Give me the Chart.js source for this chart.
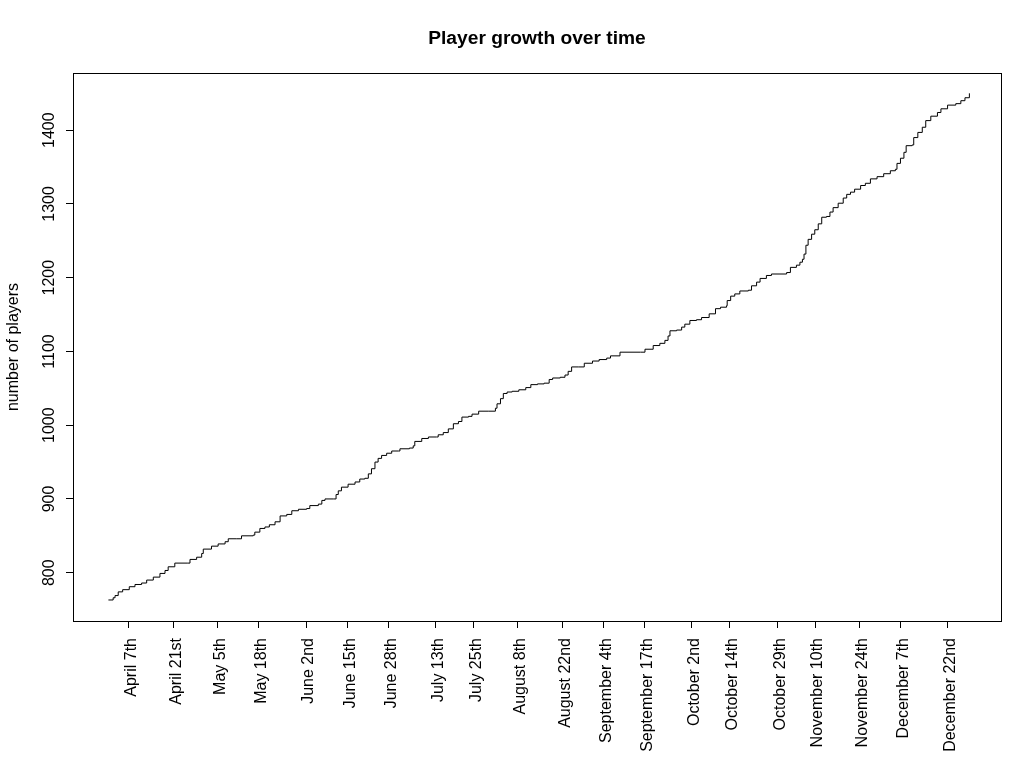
<!DOCTYPE html>
<html>
<head>
<meta charset="utf-8">
<title>Player growth over time</title>
<script src="https://cdn.jsdelivr.net/npm/chart.js@4.4.0/dist/chart.umd.min.js"></script>
<style>
  html, body { margin: 0; padding: 0; background: #fff; }
  #growthChart { display: block; }
</style>
</head>
<body>
<canvas id="growthChart" width="1024" height="768"></canvas>
<script>
// === DATA (day of year -> number of players) ===
const days = [
  90.5, 92.0, 92.6, 93.6, 95.0, 97.1, 98.9, 101.0, 102.6, 104.7,
  106.8, 108.4, 109.4, 111.5, 115.4, 116.3, 118.4, 120.0, 120.5, 123.1,
  125.2, 127.4, 128.4, 131.1, 132.6, 136.3, 136.8, 138.4, 140.0, 141.4,
  143.2, 144.8, 146.9, 148.5, 150.6, 153.2, 154.2, 156.9, 158.0, 159.0,
  161.6, 162.5, 163.2, 164.2, 166.3, 168.5, 170.0, 171.6, 172.7, 173.7,
  174.8, 175.8, 176.9, 178.5, 180.1, 182.2, 182.7, 185.7, 186.9, 187.4,
  189.6, 191.7, 194.3, 194.8, 196.4, 198.0, 199.6, 201.2, 202.3, 204.4,
  205.5, 207.6, 210.8, 212.9, 213.4, 214.5, 215.4, 216.6, 218.2, 220.3,
  222.5, 224.1, 226.2, 228.3, 229.9, 231.0, 233.4, 234.9, 235.9, 237.0,
  239.1, 241.0, 243.6, 245.7, 248.1, 249.3, 252.3, 258.8, 260.2, 262.8,
  264.9, 266.5, 267.5, 268.1, 270.2, 271.8, 272.8, 274.4, 276.5, 278.1,
  280.5, 282.5, 284.1, 286.0, 286.2, 287.3, 288.6, 290.2, 292.9, 293.9,
  295.5, 296.6, 298.6, 300.2, 302.9, 305.0, 306.2, 308.1, 309.2, 310.0,
  310.5, 311.1, 311.8, 312.9, 313.9, 315.0, 316.1, 317.6, 318.7, 319.7,
  321.3, 322.9, 324.0, 325.2, 326.5, 328.4, 329.9, 331.5, 333.6, 335.7,
  337.8, 339.4, 339.9, 341.0, 342.1, 342.8, 344.7, 345.2, 346.5, 347.9,
  349.0, 350.6, 352.7, 353.8, 355.9, 358.5, 360.1, 361.4, 362.8
];
const players = [
  763, 766, 769, 774, 777, 781, 784, 786, 790, 794,
  799, 803, 808, 813, 813, 818, 821, 826, 832, 836,
  839, 842, 846, 846, 850, 851, 855, 860, 862, 865,
  869, 877, 879, 884, 886, 887, 891, 893, 898, 900,
  900, 906, 911, 916, 920, 923, 927, 928, 934, 941,
  950, 955, 959, 962, 965, 965, 968, 969, 972, 978,
  982, 984, 984, 987, 990, 995, 1002, 1005, 1011, 1012,
  1015, 1019, 1019, 1023, 1029, 1036, 1043, 1045, 1046, 1048,
  1051, 1055, 1056, 1057, 1062, 1064, 1065, 1068, 1073, 1079,
  1079, 1084, 1087, 1089, 1091, 1094, 1099, 1099, 1103, 1108,
  1111, 1115, 1121, 1128, 1129, 1133, 1137, 1142, 1143, 1146,
  1151, 1158, 1160, 1162, 1169, 1175, 1178, 1182, 1183, 1189,
  1194, 1199, 1203, 1205, 1205, 1207, 1214, 1217, 1221, 1225,
  1232, 1244, 1252, 1259, 1265, 1273, 1282, 1283, 1289, 1295,
  1301, 1308, 1313, 1316, 1320, 1325, 1328, 1334, 1337, 1341,
  1345, 1347, 1355, 1362, 1370, 1379, 1380, 1390, 1397, 1404,
  1413, 1419, 1424, 1429, 1434, 1436, 1440, 1444, 1450
];

// === AXIS TICKS ===
const tickDays = [97, 111, 125, 138, 153, 166, 179, 194, 206, 220,
                  234, 247, 260, 275, 287, 302, 314, 328, 341, 356];
const tickLabels = ["April 7th", "April 21st", "May 5th", "May 18th", "June 2nd",
                    "June 15th", "June 28th", "July 13th", "July 25th", "August 8th",
                    "August 22nd", "September 4th", "September 17th", "October 2nd", "October 14th",
                    "October 29th", "November 10th", "November 24th", "December 7th", "December 22nd"];
const yTicks = [800, 900, 1000, 1100, 1200, 1300, 1400];

const FONT = "'Liberation Sans', Arial, sans-serif";

// box around the plot region
const boxPlugin = {
  id: "box",
  afterDraw(chart) {
    const { ctx, chartArea: a } = chart;
    ctx.save();
    ctx.strokeStyle = "#000";
    ctx.lineWidth = 1;
    ctx.strokeRect(Math.round(a.left) + 0.5, Math.round(a.top) + 0.5,
                   Math.round(a.right - a.left), Math.round(a.bottom - a.top));
    ctx.restore();
  }
};

const ctx = document.getElementById("growthChart").getContext("2d");
new Chart(ctx, {
  type: "line",
  data: {
    datasets: [{
      label: "players",
      data: days.map((d, i) => ({ x: d, y: players[i] })),
      borderColor: "#000",
      borderWidth: 1,
      pointRadius: 0,
      stepped: "before",
      tension: 0,
      fill: false
    }]
  },
  options: {
    responsive: false,
    animation: false,
    devicePixelRatio: 1,
    layout: { padding: { left: 0, right: 23, top: 0, bottom: 0 } },
    plugins: {
      legend: { display: false },
      tooltip: { enabled: false },
      title: {
        display: true,
        text: "Player growth over time",
        color: "#000",
        fullSize: false,
        font: { family: FONT, size: 19.2, weight: "bold", lineHeight: 1.2 },
        padding: { top: 27, bottom: 23 }
      }
    },
    scales: {
      x: {
        type: "linear",
        min: 79.3,
        max: 372.8,
        afterBuildTicks: s => { s.ticks = tickDays.map(v => ({ value: v })); },
        afterFit: s => { s.height = 147; },
        border: { display: false },
        grid: { drawOnChartArea: false, drawTicks: true, tickLength: 7, color: "#000" },
        ticks: {
          autoSkip: false,
          minRotation: 90,
          maxRotation: 90,
          padding: 10,
          labelOffset: 3,
          color: "#000",
          font: { family: FONT, size: 16 },
          callback: (v, i) => tickLabels[i]
        }
      },
      y: {
        min: 734.5,
        max: 1477.5,
        afterBuildTicks: s => { s.ticks = yTicks.map(v => ({ value: v })); },
        afterFit: s => { s.width = 73; },
        border: { display: false },
        grid: { drawOnChartArea: false, drawTicks: true, tickLength: 7, color: "#000" },
        ticks: {
          minRotation: 90,
          maxRotation: 90,
          crossAlign: "center",
          padding: -1,
          color: "#000",
          font: { family: FONT, size: 16 },
          callback: v => String(v)
        },
        title: {
          display: true,
          text: "number of players",
          color: "#000",
          font: { family: FONT, size: 16 },
          padding: { top: 4, bottom: 0 }
        }
      }
    }
  },
  plugins: [boxPlugin]
});
</script>
</body>
</html>
